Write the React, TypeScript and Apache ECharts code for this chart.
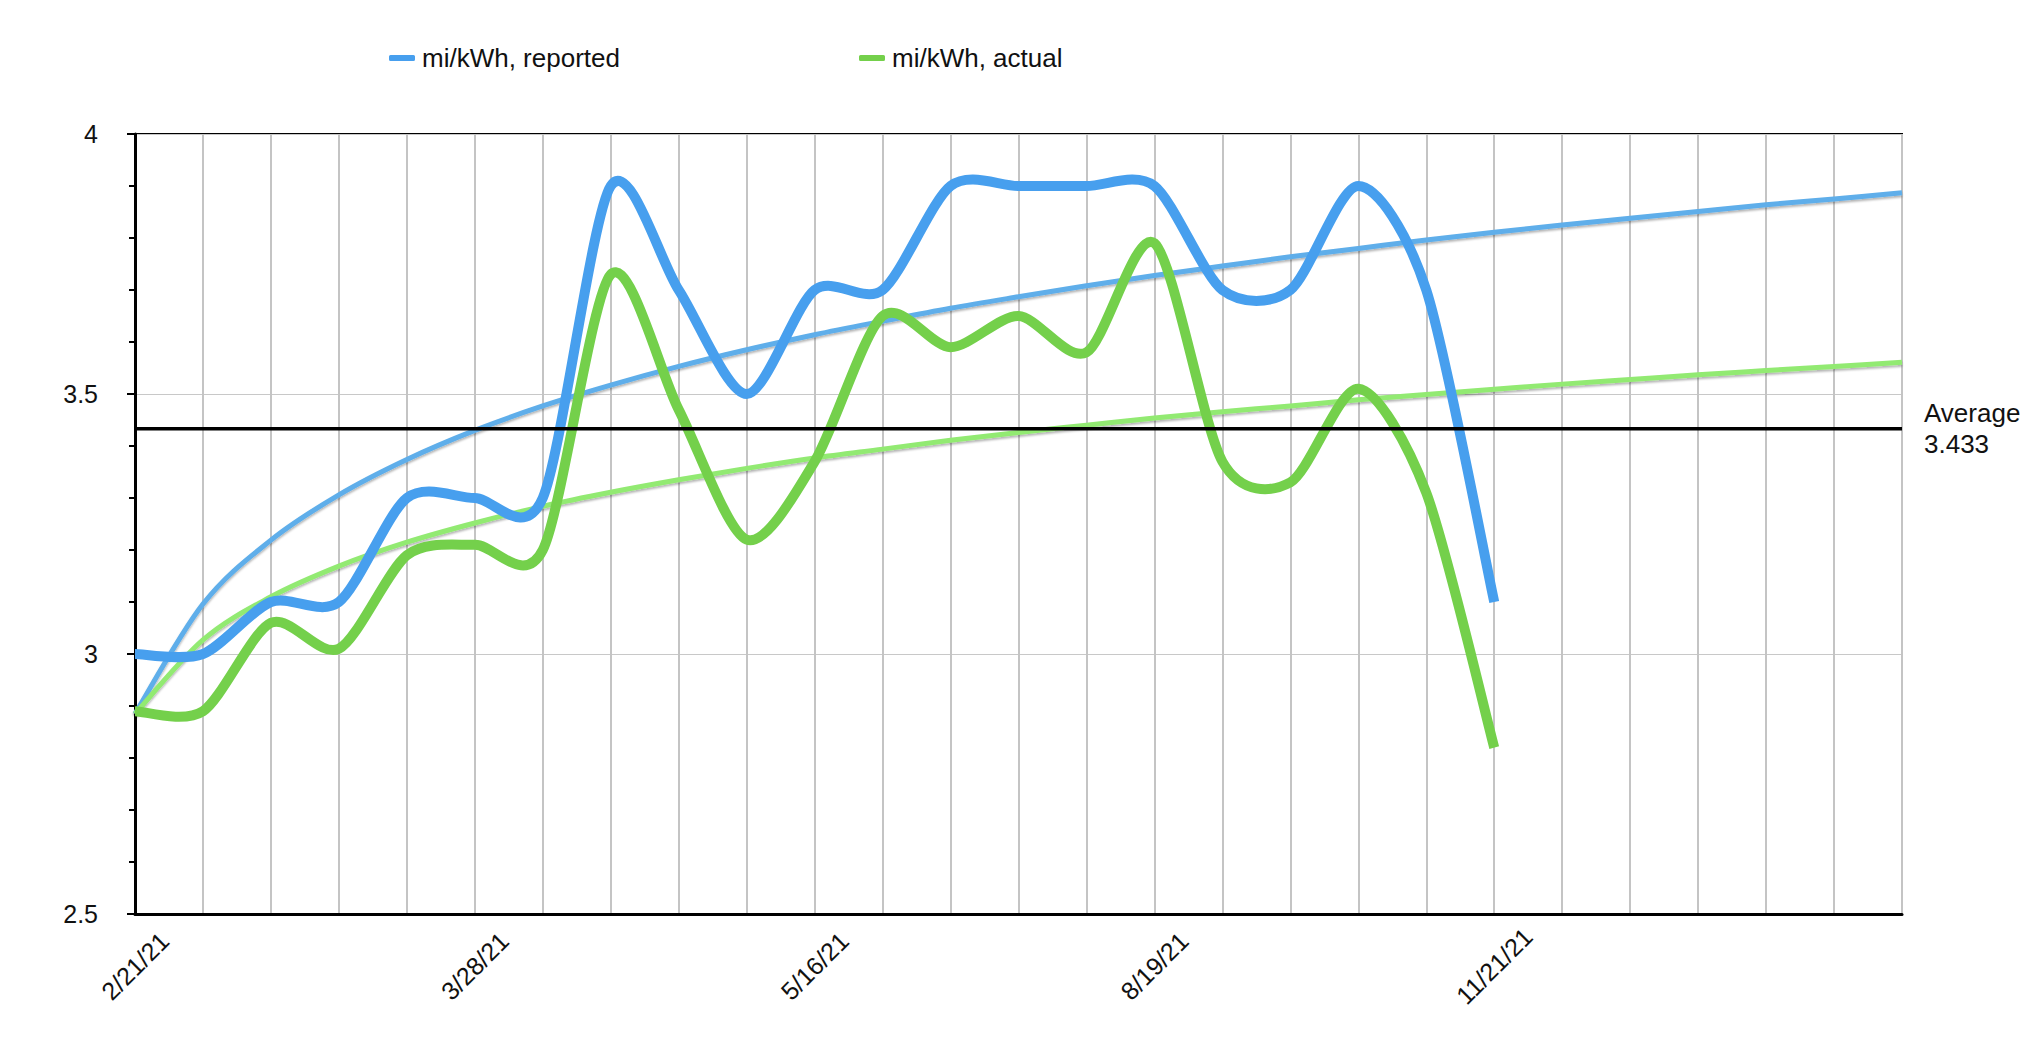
import React, { useEffect, useRef } from "react";
import * as echarts from "echarts";

// x positions (27 grid columns); only some carry a date label
const xLabels = [
  "2/21/21", "", "", "", "", "3/28/21", "", "", "", "", "5/16/21", "", "", "", "",
  "8/19/21", "", "", "", "", "11/21/21", "", "", "", "", "", "",
];

const reportedName = "mi/kWh, reported";
const actualName = "mi/kWh, actual";

const reported = [3.0, 3.0, 3.1, 3.1, 3.3, 3.3, 3.3, 3.9, 3.7, 3.5, 3.7, 3.7, 3.9, 3.9, 3.9, 3.9, 3.7, 3.7, 3.9, 3.7, 3.1];
const actual = [2.89, 2.89, 3.06, 3.01, 3.19, 3.21, 3.2, 3.73, 3.47, 3.22, 3.37, 3.65, 3.59, 3.65, 3.58, 3.79, 3.37, 3.33, 3.51, 3.31, 2.82];

// logarithmic trend lines at each grid column
const reportedTrend = [2.885, 3.096, 3.219, 3.306, 3.374, 3.43, 3.477, 3.517, 3.553, 3.585, 3.614, 3.64, 3.665, 3.687, 3.708, 3.728, 3.746, 3.764, 3.78, 3.796, 3.811, 3.825, 3.838, 3.851, 3.864, 3.875, 3.887];
const actualTrend = [2.885, 3.027, 3.11, 3.169, 3.215, 3.252, 3.284, 3.311, 3.335, 3.357, 3.377, 3.394, 3.411, 3.426, 3.44, 3.454, 3.466, 3.477, 3.489, 3.499, 3.509, 3.519, 3.528, 3.537, 3.545, 3.553, 3.561];

const averageValue = 3.433;
const averageLabel = "Average";
const yTicks = { min: 2.5, max: 4, interval: 0.5 };

const FONT = "'Liberation Sans', Arial, Helvetica, sans-serif";

// Cardinal curve through the points that the axes give
function curvePath(pts: number[][], k: number): string {
  let d = `M${pts[0][0]},${pts[0][1]}`;
  for (let i = 0; i < pts.length - 1; i++) {
    const p0 = pts[i - 1] || pts[i];
    const p1 = pts[i];
    const p2 = pts[i + 1];
    const p3 = pts[i + 2] || pts[i + 1];
    const c1x = p1[0] + (p2[0] - p0[0]) * k;
    const c1y = p1[1] + (p2[1] - p0[1]) * k;
    const c2x = p2[0] - (p3[0] - p1[0]) * k;
    const c2y = p2[1] - (p3[1] - p1[1]) * k;
    d += ` C${c1x},${c1y} ${c2x},${c2y} ${p2[0]},${p2[1]}`;
  }
  return d;
}

function curveSeries(name: string, values: number[], color: string, width: number, z: number, shadow: boolean, k: number) {
  return {
    name,
    type: "custom",
    coordinateSystem: "cartesian2d",
    z,
    itemStyle: { color },
    data: values.map((v, i) => [i, v]),
    encode: { x: 0, y: 1 },
    renderItem: (params: any, api: any) => {
      if (params.dataIndex !== 0) return null;
      const pts = values.map((v, i) => api.coord([i, v]));
      return {
        type: "path",
        shape: { pathData: curvePath(pts, k) },
        style: {
          fill: "none",
          stroke: color,
          lineWidth: width,
          lineJoin: "round",
          ...(shadow
            ? { shadowColor: "rgba(0,0,0,0.3)", shadowBlur: 2, shadowOffsetY: 2 }
            : {}),
        },
      };
    },
  };
}

export default function App() {
  const ref = useRef<HTMLDivElement>(null);

  useEffect(() => {
    if (!ref.current) return;
    const chart = echarts.init(ref.current, undefined, { renderer: "svg" });
    const lastX = xLabels.length - 1;

    const legendBase = {
      top: 40,
      icon: "roundRect",
      itemWidth: 26,
      itemHeight: 6,
      textStyle: { fontSize: 26, color: "#111", fontFamily: FONT, padding: [0, 0, 0, 2] },
    };

    chart.setOption({
      animation: false,
      backgroundColor: "#fff",
      textStyle: { fontFamily: FONT, color: "#111" },
      legend: [
        { ...legendBase, data: [reportedName], left: 384 },
        { ...legendBase, data: [actualName], left: 854 },
      ],
      grid: {
        left: 135,
        right: 120,
        top: 134,
        bottom: 127,
        show: true,
        borderColor: "#000",
        borderWidth: 2,
        containLabel: false,
      },
      xAxis: {
        type: "value",
        min: 0,
        max: lastX,
        interval: 1,
        axisLine: { show: true, lineStyle: { color: "#000", width: 3 } },
        axisTick: { show: false },
        splitLine: { show: true, lineStyle: { color: "#c4c4c4", width: 2 } },
        axisLabel: {
          show: true,
          rotate: 45,
          align: "center",
          verticalAlign: "middle",
          margin: 52,
          fontSize: 25,
          color: "#111",
          fontFamily: FONT,
          formatter: (v: number) => xLabels[Math.round(v)] ?? "",
        },
      },
      yAxis: {
        type: "value",
        min: yTicks.min,
        max: yTicks.max,
        interval: yTicks.interval,
        axisLine: { show: true, lineStyle: { color: "#000", width: 3 } },
        axisTick: { show: true, length: 8, lineStyle: { color: "#000", width: 2 } },
        minorTick: { show: true, splitNumber: 5, length: 6, lineStyle: { color: "#000", width: 2 } },
        splitLine: { show: true, lineStyle: { color: "#c8c8c8", width: 1 } },
        axisLabel: {
          fontSize: 25,
          margin: 37,
          color: "#111",
          fontFamily: FONT,
          formatter: (v: number) => String(v),
        },
      },
      series: [
        curveSeries("trend reported", reportedTrend, "#5eaeea", 5, 2, true, 1 / 6),
        curveSeries("trend actual", actualTrend, "#92ea72", 5, 2, true, 1 / 6),
        curveSeries(reportedName, reported, "#479fee", 10, 3, false, 0.14),
        curveSeries(actualName, actual, "#74d04b", 10, 3, false, 0.14),
        {
          name: "average",
          type: "line",
          z: 6,
          symbol: "none",
          silent: true,
          data: [
            [0, averageValue],
            [lastX, averageValue],
          ],
          lineStyle: { color: "#000", width: 3.5 },
          endLabel: {
            show: true,
            distance: 22,
            formatter: `${averageLabel}\n${averageValue}`,
            fontSize: 26,
            lineHeight: 31,
            color: "#111",
            fontFamily: FONT,
            align: "left",
          },
        },
      ],
    });

    return () => chart.dispose();
  }, []);

  return (
    <div
      ref={ref}
      style={{ position: "fixed", left: 0, top: 0, width: 2022, height: 1041, background: "#fff" }}
    />
  );
}
